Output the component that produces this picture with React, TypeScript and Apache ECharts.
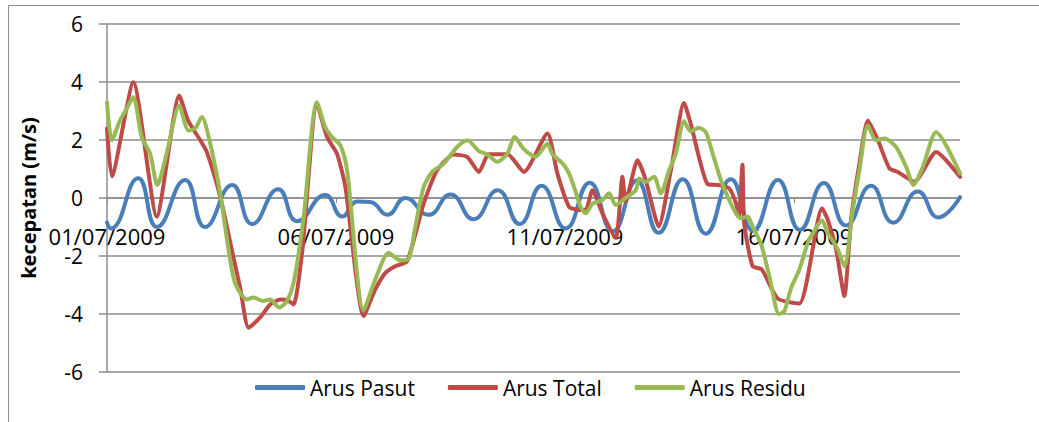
import React, { useEffect, useRef } from "react";
import * as echarts from "echarts";

// x = hours since 01/07/2009 00:00, y = current speed (m/s)
const xTickHours = [0, 120, 240, 360];
const xTickLabels = ["01/07/2009", "06/07/2009", "11/07/2009", "16/07/2009"];
const xMaxHour = 447;
const yTicks = { min: -6, max: 6, step: 2 };
const seriesNames = ["Arus Pasut", "Arus Total", "Arus Residu"];

const arusPasut: [number, number][] = [
  [0, -0.85], [2, -1.05], [16.3, 0.68], [26.2, -1.0], [40.9, 0.62], [51.4, -1.0],
  [65.6, 0.45], [76.1, -0.9], [89.7, 0.3], [99.7, -0.8], [114.4, 0.1], [123.3, -0.64],
  [131.2, -0.12], [138, -0.14], [146.9, -0.58], [156.4, 0.0], [168.4, -0.58], [180, 0.12],
  [192, -0.73], [204.7, 0.27], [216.2, -0.9], [227.7, 0.42], [240.3, -1.05], [252.9, 0.53],
  [265, -1.15], [277.6, 0.6], [289.1, -1.2], [301.7, 0.65], [313.8, -1.23], [326.9, 0.65],
  [338.5, -1.13], [351.6, 0.62], [363.1, -1.1], [375.7, 0.52], [387.3, -0.95], [400.4, 0.42],
  [412, -0.85], [425, 0.22], [435.6, -0.67], [447, 0.03],
];

const arusTotal: [number, number][] = [
  [0, 2.4], [2.5, 0.75], [13.8, 3.99], [26.1, -0.64], [37.9, 3.53], [42.5, 2.67],
  [48.8, 2.0], [52.3, 1.59], [59.3, 0.05], [66.1, -2.0], [69.8, -3.1], [74.2, -4.47],
  [80.3, -4.12], [85.5, -3.67], [90.8, -3.5], [94.5, -3.52], [97.8, -3.67], [102.3, -1.85],
  [110, 3.25], [115.3, 2.1], [120.5, 1.53], [124.9, 0.39], [134.5, -4.07], [140.6, -3.15],
  [145.9, -2.58], [151.1, -2.35], [157.3, -2.18], [166, -0.18], [173, 0.96], [181.7, 1.5],
  [188.7, 1.42], [194.9, 0.9], [200.1, 1.51], [209.8, 1.51], [218.5, 0.9], [230.8, 2.22],
  [236, 0.85], [242.1, -0.3], [247.3, -0.41], [250.9, -0.4], [254.4, 0.27], [259.6, -0.53],
  [266.6, -1.38], [270.1, 0.73], [271.8, -0.13], [278, 1.3], [282.3, 0.62], [289.1, -0.98],
  [295.5, 0.96], [302.4, 3.28], [305.9, 2.56], [314.7, 0.48], [320, 0.45], [326, 0.33],
  [329.6, -0.18], [331.1, -0.64], [333, 1.15], [333.9, -0.87], [338.3, -2.35], [343.2, -2.47],
  [351.5, -3.47], [362.8, -3.64], [374.7, -0.35], [377.7, -0.75], [382.1, -1.78], [386.4, -3.38],
  [389.9, -0.75], [394.3, 1.19], [398.7, 2.67], [404, 1.99], [410, 1.02], [414.4, 0.9],
  [423.1, 0.56], [434.5, 1.59], [447, 0.73],
];

const arusResidu: [number, number][] = [
  [0, 3.3], [2.5, 1.99], [6.8, 2.67], [10, 3.05], [13.8, 3.47], [18.2, 2.1],
  [22.6, 1.53], [26.4, 0.45], [31.3, 1.54], [37.9, 3.19], [42.7, 2.33], [46.2, 2.4],
  [49.7, 2.79], [54.1, 1.87], [59.3, 0.16], [63.7, -1.78], [67.2, -2.95], [73.3, -3.5],
  [76.6, -3.43], [81.9, -3.55], [85.5, -3.5], [90.3, -3.78], [94.3, -3.55], [97.8, -2.92],
  [102.9, -0.75], [110, 3.3], [114.4, 2.44], [117.9, 2.1], [122.3, 1.82], [125.8, 0.96],
  [134.5, -3.87], [140.6, -2.81], [147.6, -1.9], [153.8, -2.15], [158.1, -2.1], [161.6, -0.98],
  [166, 0.39], [170.4, 0.9], [176.5, 1.19], [183.5, 1.76], [188.8, 1.99], [194.9, 1.62],
  [199.3, 1.5], [204.5, 1.25], [209.8, 1.53], [213.6, 2.1], [218.5, 1.68], [224.6, 1.42],
  [230.8, 1.87], [233.5, 1.5], [238.8, 1.19], [242.1, 0.85], [244.7, 0.39], [248.2, -0.3],
  [250.9, -0.53], [254.4, -0.2], [259.6, -0.07], [263.1, 0.16], [266.6, -0.24], [271.8, 0.0],
  [277.1, 0.27], [278.8, 0.67], [282.3, 0.56], [286.7, 0.73], [290.2, 0.16], [294.6, 0.96],
  [298.1, 1.53], [302.4, 2.65], [305.9, 2.3], [310.2, 2.42], [313.8, 2.27], [317.3, 1.55],
  [321.7, 0.62], [325.2, 0.05], [329.6, -0.53], [332.2, -0.7], [335.7, -0.64], [338.3, -0.98],
  [342.8, -1.6], [347.1, -2.7], [352.2, -4.0], [355, -3.9], [358.5, -3.1], [362.8, -2.47],
  [367.2, -1.55], [370, -1.2], [374.7, -0.78], [377.7, -1.21], [383, -1.78], [386.4, -2.35],
  [390.8, -0.41], [394.3, 0.96], [398.7, 2.5], [403, 1.99], [407.4, 2.05], [413.5, 1.76],
  [418.8, 1.07], [422.6, 0.45], [427.5, 1.07], [434.5, 2.27], [447, 0.85],
];

const colors = ["#4A7EBB", "#BE4B48", "#98B954"];

export default function App() {
  const ref = useRef<HTMLDivElement>(null);
  useEffect(() => {
    if (!ref.current) return;
    const chart = echarts.init(ref.current, null, { renderer: "svg" });
    const gray = "#8c8c8c";
    const font = "Open Sans";
    const gridTop = 24;
    const gridBottom = 50;
    const plotH = 422 - gridTop - gridBottom;
    // distance from the bottom of the plot up to the value 0
    const zeroOffset = (plotH * (0 - yTicks.min)) / (yTicks.max - yTicks.min);
    chart.setOption({
      animation: false,
      textStyle: { fontFamily: font },
      color: colors,
      grid: { left: 107, right: 79, top: gridTop, bottom: gridBottom },
      graphic: [
        { type: "line", shape: { x1: 8.5, y1: 5.5, x2: 1039, y2: 5.5 }, style: { stroke: gray, lineWidth: 1 } },
        { type: "line", shape: { x1: 8.5, y1: 5.5, x2: 8.5, y2: 422 }, style: { stroke: gray, lineWidth: 1 } },
      ],
      legend: {
        data: seriesNames,
        left: 255,
        top: 377,
        padding: 0,
        itemWidth: 50,
        itemHeight: 5,
        itemGap: 33,
        icon: "roundRect",
        textStyle: { fontSize: 21, color: "#000", fontFamily: font },
      },
      xAxis: {
        type: "value",
        min: 0,
        max: xMaxHour,
        position: "bottom",
        offset: -zeroOffset,
        axisLine: { onZero: false, lineStyle: { color: gray, width: 1.5 } },
        axisTick: { show: true, customValues: xTickHours, length: 5, lineStyle: { color: gray } },
        axisLabel: {
          customValues: xTickHours,
          fontSize: 22,
          color: "#000",
          margin: 27,
          fontFamily: font,
          formatter: (v: number) => {
            const i = xTickHours.indexOf(v);
            return i >= 0 ? xTickLabels[i] : "";
          },
        },
        splitLine: { show: false },
      },
      yAxis: {
        type: "value",
        min: yTicks.min,
        max: yTicks.max,
        interval: yTicks.step,
        name: "kecepatan (m/s)",
        nameLocation: "middle",
        nameGap: 69,
        nameTextStyle: { fontSize: 20, fontWeight: "bold", color: "#000", fontFamily: font },
        axisLine: { show: true, onZero: false, lineStyle: { color: gray, width: 1.5 } },
        axisTick: { show: true, length: 8, lineStyle: { color: gray, width: 1.5 } },
        axisLabel: { fontSize: 21, color: "#000", margin: 24, fontFamily: font },
        splitLine: { show: true, lineStyle: { color: gray, width: 1.5 } },
      },
      series: [
        { name: seriesNames[0], type: "line", data: arusPasut, smooth: 0.5, showSymbol: false,
          lineStyle: { width: 4, cap: "round", join: "round" } },
        { name: seriesNames[1], type: "line", data: arusTotal, smooth: 0.2, showSymbol: false,
          lineStyle: { width: 4, cap: "round", join: "round" } },
        { name: seriesNames[2], type: "line", data: arusResidu, smooth: 0.25, showSymbol: false,
          lineStyle: { width: 4, cap: "round", join: "round" } },
      ],
    });
    return () => chart.dispose();
  }, []);
  return <div ref={ref} style={{ position: "absolute", left: 0, top: 0, width: 1039, height: 422 }} />;
}
